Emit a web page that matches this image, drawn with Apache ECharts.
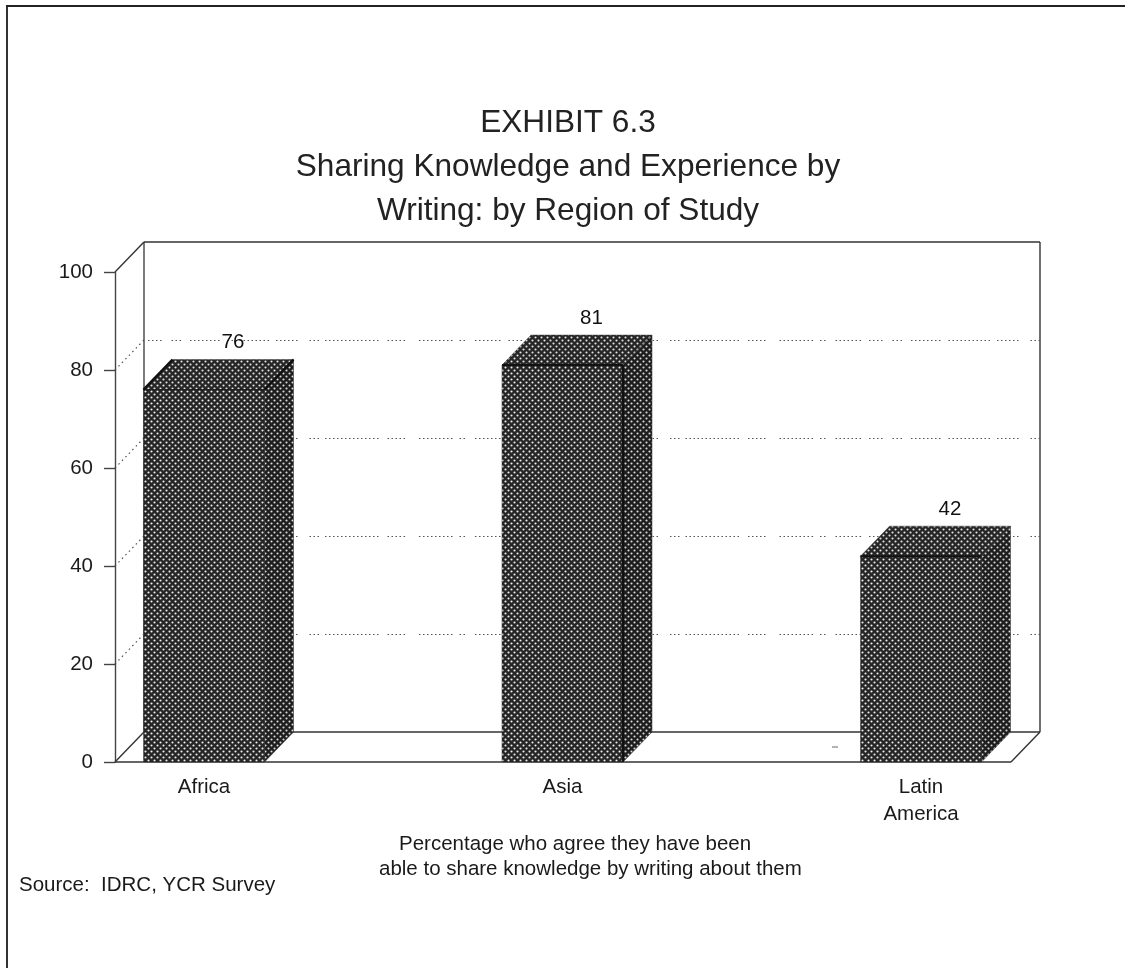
<!DOCTYPE html>
<html>
<head>
<meta charset="utf-8">
<style>html,body{margin:0;padding:0;background:#fff}#c{width:1125px;height:968px}</style>
<script src="https://cdn.jsdelivr.net/npm/echarts@6/dist/echarts.min.js"></script>
</head>
<body>
<div id="c"></div>
<script>
const categories = ['Africa', 'Asia', 'Latin\nAmerica'];
const shares = [76, 81, 42];
const yTicks = [0, 20, 40, 60, 80, 100];

const FONT = '"Liberation Sans", Arial, sans-serif';
const DX = 29, DY = -30, HALF = 60.5;
const AXIS_OFFSET = 89;
const WALL_RIGHT = 1040;

function tile(bg, dot) {
  const c = document.createElement('canvas');
  c.width = 6; c.height = 6;
  const g = c.getContext('2d');
  g.fillStyle = bg; g.fillRect(0, 0, 6, 6);
  g.fillStyle = dot;
  [[1.5, 1.5], [4.5, 4.5]].forEach(function (p) {
    g.beginPath(); g.arc(p[0], p[1], 1.05, 0, Math.PI * 2); g.fill();
  });
  return { image: c, repeat: 'repeat' };
}
const frontFill = tile('#262626', '#f0f0f0');
const topFill = tile('#262626', '#e6e6e6');
const sideFill = tile('#1e1e1e', '#dcdcdc');

// A dotted rule with the broken runs of the printed original.
const DOT = 1.5, GAP = 2.5;
function brokenDash(runs) {
  const out = [];
  runs.forEach(function (r) {
    for (let k = 0; k < r[0] - 1; k++) out.push(DOT, GAP);
    out.push(DOT, r[1]);
  });
  return out;
}
const gridDash = brokenDash([[4, 10], [3, 9], [8, 8], [11, 7], [6, 12], [3, 6], [14, 9], [5, 14], [9, 7], [2, 10], [7, 8]]);

const chart = echarts.init(document.getElementById('c'), null, { renderer: 'canvas' });

function line(x1, y1, x2, y2, stroke, width, dash) {
  return { type: 'line', shape: { x1, y1, x2, y2 }, silent: true,
    style: { stroke, lineWidth: width || 1, lineDash: dash || null, fill: null } };
}
function poly(points, fill) {
  return { type: 'polygon', shape: { points }, silent: true, style: { fill, stroke: '#333', lineWidth: 0.5 } };
}

function renderWall(params, api) {
  const v = api.value(1);
  const p = api.coord([0, v]);
  const left = p[0] - AXIS_OFFSET, y = p[1];
  const solid = v === 0 || v === 100;
  const kids = [];
  if (solid) {
    kids.push(line(left, y, left + DX, y + DY, '#333', 1.4));
    kids.push(line(left + DX, y + DY, WALL_RIGHT, y + DY, '#333', 1.4));
  } else {
    kids.push(line(left, y, left + DX, y + DY, '#444', 1.1, [1.5, 3.5]));
    kids.push(line(left + DX + 4, y + DY + 0.5, WALL_RIGHT, y + DY + 0.5, '#555', 1.2, gridDash));
  }
  if (v === 0) {
    const h = api.size([0, 100])[1];
    kids.push(line(left + DX, y + DY, left + DX, y + DY - h, '#444', 1.4));
    kids.push(line(WALL_RIGHT, y + DY, WALL_RIGHT, y + DY - h, '#333', 1.4));
    kids.push(line(WALL_RIGHT - DX, y, WALL_RIGHT, y + DY, '#333', 1.4));
    kids.push(line(left, y, WALL_RIGHT - DX, y, '#333', 1.4));
  }
  return { type: 'group', children: kids };
}

function renderBar(params, api) {
  const i = api.value(0), v = api.value(1);
  const top = api.coord([i, v]);
  const base = api.coord([i, 0]);
  const L = top[0] - HALF, R = top[0] + HALF, T = top[1], B = base[1];
  const kids = [
    poly([[L, T], [R, T], [R, B], [L, B]], frontFill),
    poly([[L, T], [L + DX, T + DY], [R + DX, T + DY], [R, T]], topFill),
    poly([[R, T], [R + DX, T + DY], [R + DX, B + DY], [R, B]], sideFill),
    line(L, T, R, T, '#111', i === 0 ? 0.8 : 2),
    line(R, T, R, B, i === 1 ? '#111' : '#333', i === 1 ? 2 : 0.7),
    { type: 'text', silent: true, style: {
        text: String(v), x: top[0] + DX, y: T + DY - 17, align: 'center', verticalAlign: 'middle',
        font: '20.5px ' + FONT, fill: '#111' } }
  ];
  if (i === 0) {
    kids.push(line(L, T, L + DX, T + DY, '#111', 2.4));
    kids.push(line(R, T, R + DX, T + DY, '#111', 2.4));
  }
  return { type: 'group', children: kids };
}

const small = { fontFamily: FONT, fontSize: 20.5, fontWeight: 'normal', color: '#1a1a1a' };

chart.setOption({
  animation: false,
  backgroundColor: '#fff',
  textStyle: { fontFamily: FONT },
  title: [
    { text: 'EXHIBIT 6.3\nSharing Knowledge and Experience by\nWriting: by Region of Study',
      left: 563, top: 96, textAlign: 'center',
      textStyle: { fontFamily: FONT, fontSize: 31.6, fontWeight: 'normal', color: '#222', lineHeight: 44 } },
    { text: 'Percentage who agree they have been', left: 394, top: 829, textStyle: small },
    { text: 'able to share knowledge by writing about them', left: 374, top: 854, textStyle: small },
    { text: 'Source:  IDRC, YCR Survey', left: 14, top: 870, textStyle: small }
  ],
  grid: { left: 204, width: 717, top: 272, height: 490 },
  xAxis: {
    type: 'category', data: categories, boundaryGap: false,
    axisLine: { show: false }, axisTick: { show: false }, splitLine: { show: false },
    axisLabel: { interval: 0, margin: 12, fontFamily: FONT, fontSize: 20.5, color: '#1a1a1a', lineHeight: 27 }
  },
  yAxis: {
    type: 'value', min: 0, max: 100, interval: 20, offset: AXIS_OFFSET,
    axisLine: { show: true, lineStyle: { color: '#444', width: 1.4 } },
    axisTick: { show: true, length: 11, lineStyle: { color: '#444', width: 1.4 } },
    splitLine: { show: false },
    axisLabel: { margin: 22, fontFamily: FONT, fontSize: 20.5, color: '#1a1a1a', padding: [4, 0, 0, 0] }
  },
  series: [
    { type: 'custom', name: 'wall', z: 1, clip: false, silent: true,
      encode: { x: 0, y: 1 }, data: yTicks.map(t => [0, t]), renderItem: renderWall },
    { type: 'custom', name: 'Agree', z: 2, clip: false, silent: true,
      encode: { x: 0, y: 1 }, data: shares.map((s, i) => [i, s]), renderItem: renderBar }
  ],
  graphic: [
    { type: 'line', silent: true, shape: { x1: 7, y1: 6, x2: 7, y2: 968 }, style: { stroke: '#333', lineWidth: 2 } },
    { type: 'line', silent: true, shape: { x1: 6, y1: 6, x2: 1125, y2: 6 }, style: { stroke: '#222', lineWidth: 2 } },
    { type: 'line', silent: true, shape: { x1: 832, y1: 747, x2: 838, y2: 747 }, style: { stroke: '#666', lineWidth: 1 } }
  ]
});
</script>
</body>
</html>
